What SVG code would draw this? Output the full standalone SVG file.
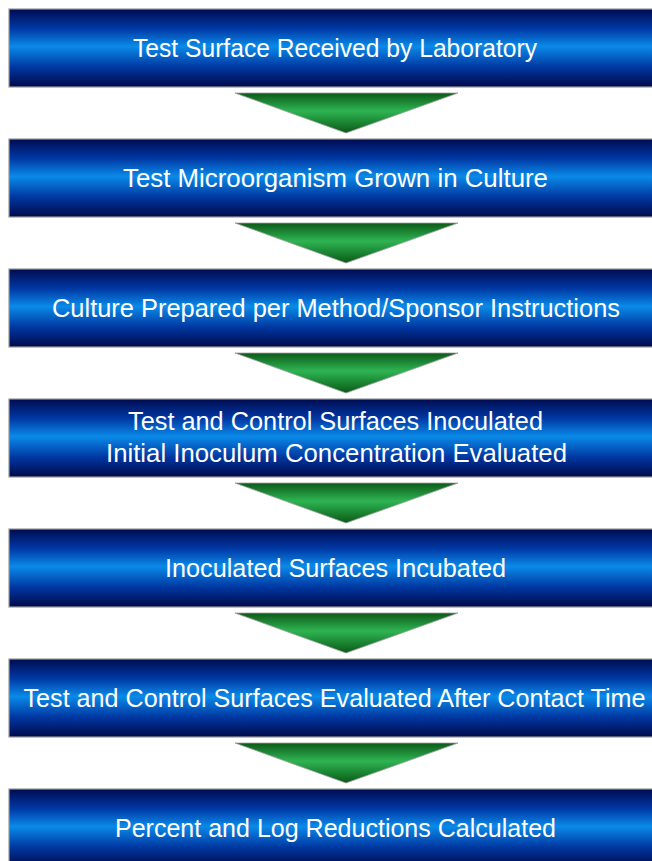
<svg xmlns="http://www.w3.org/2000/svg" width="652" height="861" viewBox="0 0 652 861">
  <defs>
    <linearGradient id="boxFill" x1="0" y1="0" x2="0" y2="1">
      <stop offset="0" stop-color="#000b50"/>
      <stop offset="0.25" stop-color="#0038a4"/>
      <stop offset="0.48" stop-color="#0a8ae8"/>
      <stop offset="0.75" stop-color="#0036a0"/>
      <stop offset="1" stop-color="#000a4a"/>
    </linearGradient>
    <linearGradient id="arrowFill" x1="0" y1="0" x2="0" y2="1">
      <stop offset="0" stop-color="#0c5a18"/>
      <stop offset="0.45" stop-color="#2eb452"/>
      <stop offset="1" stop-color="#0a5a16"/>
    </linearGradient>
  </defs>
  <style>
    .step rect { fill: url(#boxFill); stroke: #9a9a9a; stroke-width: 1.2; }
    .step text { fill: #ffffff; font-family: "Liberation Sans", Arial, sans-serif; font-size: 26px; text-anchor: middle; }
    .flow polygon { fill: url(#arrowFill); stroke: #a0a0a0; stroke-width: 0.8; }
  </style>
  <rect width="652" height="861" fill="#ffffff"/>

  <g class="flow" id="connectors">
    <polygon points="235,93 458,93 346,133"/>
    <polygon points="235,223 458,223 346,263"/>
    <polygon points="235,353 458,353 346,393"/>
    <polygon points="235,483 458,483 346,523"/>
    <polygon points="235,613 458,613 346,653"/>
    <polygon points="235,743 458,743 346,783"/>
  </g>

  <g class="step" id="step1">
    <rect x="9" y="9" width="660" height="78"/>
    <text x="335" y="57" textLength="404" lengthAdjust="spacingAndGlyphs">Test Surface Received by Laboratory</text>
  </g>
  <g class="step" id="step2">
    <rect x="9" y="139" width="660" height="78"/>
    <text x="335.5" y="187" textLength="425" lengthAdjust="spacingAndGlyphs">Test Microorganism Grown in Culture</text>
  </g>
  <g class="step" id="step3">
    <rect x="9" y="269" width="660" height="78"/>
    <text x="336" y="317" textLength="568" lengthAdjust="spacingAndGlyphs">Culture Prepared per Method/Sponsor Instructions</text>
  </g>
  <g class="step" id="step4">
    <rect x="9" y="399" width="660" height="78"/>
    <text x="335.5" y="430" textLength="415" lengthAdjust="spacingAndGlyphs">Test and Control Surfaces Inoculated</text>
    <text x="336.5" y="462" textLength="461" lengthAdjust="spacingAndGlyphs">Initial Inoculum Concentration Evaluated</text>
  </g>
  <g class="step" id="step5">
    <rect x="9" y="529" width="660" height="78"/>
    <text x="335.5" y="577" textLength="341" lengthAdjust="spacingAndGlyphs">Inoculated Surfaces Incubated</text>
  </g>
  <g class="step" id="step6">
    <rect x="9" y="659" width="660" height="78"/>
    <text x="334.5" y="707" textLength="622" lengthAdjust="spacingAndGlyphs">Test and Control Surfaces Evaluated After Contact Time</text>
  </g>
  <g class="step" id="step7">
    <rect x="9" y="789" width="660" height="78"/>
    <text x="335.5" y="837" textLength="441" lengthAdjust="spacingAndGlyphs">Percent and Log Reductions Calculated</text>
  </g>
</svg>
